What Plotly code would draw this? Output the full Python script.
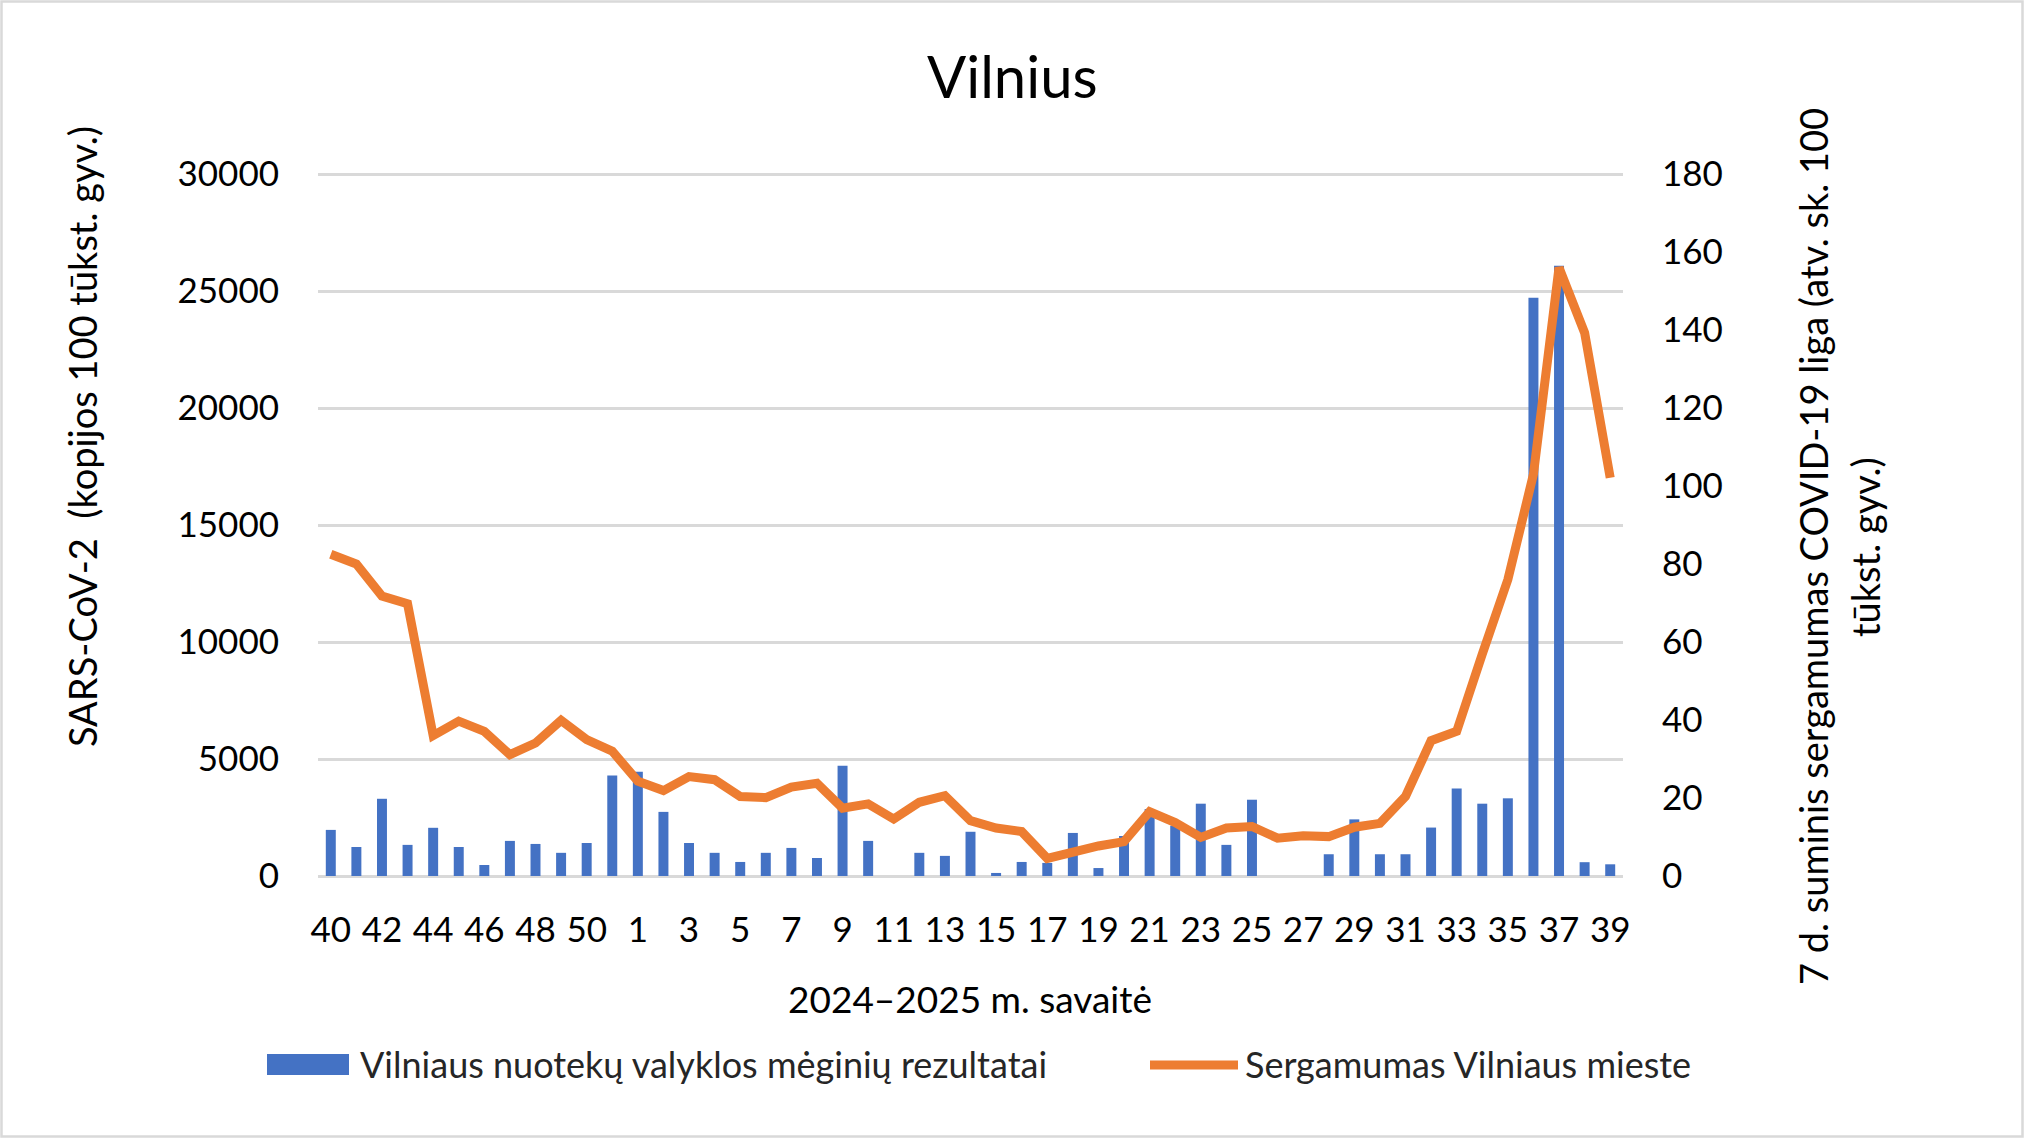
import plotly.graph_objects as go

# ---------------- data ----------------
weeks = [str(w) for w in range(40, 52)] + [str(w) for w in range(1, 40)]

wastewater = [1970, 1240, 3300, 1330, 2060, 1240, 470, 1500, 1370, 990, 1410, 4290,
              4460, 2740, 1410, 990, 600, 990, 1200, 770, 4710, 1500, None, 990,
              860, 1890, 130, 600, 560, 1840, 340, 1710, 2860, 2150, 3090, 1330,
              3260, None, None, 930, 2420, 930, 930, 2070, 3740, 3090, 3320, 24710,
              26080, 590, 500]

incidence = [82.5, 80.0, 71.8, 69.8, 36.0, 39.7, 37.1, 31.1, 34.1, 39.9, 35.0, 32.0,
             24.3, 21.9, 25.5, 24.7, 20.4, 20.1, 22.8, 23.8, 17.4, 18.5, 14.6, 18.9,
             20.6, 14.2, 12.3, 11.4, 4.5, 6.3, 7.7, 8.8, 16.5, 13.7, 9.9, 12.3,
             12.7, 9.7, 10.3, 10.1, 12.5, 13.5, 20.4, 34.7, 37.1, 56.9, 76.0, 103.0,
             156.0, 139.3, 102.1]

tick_weeks = weeks[::2]

title_text = "Vilnius"
x_title = "2024–2025 m. savaitė"
y_title = "SARS-CoV-2  (kopijos 100 tūkst. gyv.)"
y2_title_1 = "7 d. suminis sergamumas COVID-19 liga (atv. sk. 100"
y2_title_2 = "tūkst. gyv.)"
bar_name = "Vilniaus nuotekų valyklos mėginių rezultatai"
line_name = "Sergamumas Vilniaus mieste"

# ---------------- layout geometry ----------------
W, H = 2024, 1138
L, R, T, B = 318, 1623, 170, 876  # plot area in px (top padded by 4 px)
TOP_GRID = 174                    # pixel row of the 30000 / 180 gridline
SCALE = (B - T) / (B - TOP_GRID)  # range head-room so the top gridline is drawn


def fx(px):
    return (px - L) / (R - L)


def fy(py):
    return (B - py) / (B - T)


FONT = "Lato"
BLUE = "#4472C4"
ORANGE = "#ED7D31"
GRID = "#d9d9d9"

fig = go.Figure()
fig.add_trace(go.Bar(x=weeks, y=wastewater, name=bar_name,
                     marker=dict(color=BLUE, line=dict(width=0)), yaxis="y"))
fig.add_trace(go.Scatter(x=weeks, y=incidence, name=line_name, mode="lines",
                         line=dict(color=ORANGE, width=9), yaxis="y2"))

annotations = [
    dict(text=title_text, x=fx(1012), y=fy(76), font=dict(family=FONT, size=58, color="black")),
    dict(text=x_title, x=fx(970), y=fy(998), font=dict(family=FONT, size=37, color="black")),
    dict(text=y_title, x=fx(82), y=fy(437), textangle=-90, font=dict(family=FONT, size=38, color="black")),
    dict(text=y2_title_1, x=fx(1813), y=fy(546), textangle=-90, font=dict(family=FONT, size=38, color="black")),
    dict(text=y2_title_2, x=fx(1865), y=fy(547), textangle=-90, font=dict(family=FONT, size=38, color="black")),
    dict(text=bar_name, x=fx(358), y=fy(1064), xanchor="left", font=dict(family=FONT, size=36, color="#262626")),
    dict(text=line_name, x=fx(1243), y=fy(1064), xanchor="left", font=dict(family=FONT, size=36, color="#262626")),
]
for a in annotations:
    a.update(xref="paper", yref="paper", showarrow=False)
    a.setdefault("xanchor", "center")
    a.setdefault("yanchor", "middle")

shapes = [
    dict(type="rect", xref="paper", yref="paper", x0=fx(267), x1=fx(349), y0=fy(1075), y1=fy(1054),
         fillcolor=BLUE, line=dict(width=0)),
    dict(type="line", xref="paper", yref="paper", x0=fx(1150), x1=fx(1238), y0=fy(1065), y1=fy(1065),
         line=dict(color=ORANGE, width=9)),
    dict(type="rect", xref="paper", yref="paper", x0=fx(1.5), x1=fx(2022.5), y0=fy(1136.5), y1=fy(1.5),
         line=dict(color=GRID, width=2.5), fillcolor="rgba(0,0,0,0)"),
]

fig.update_layout(
    width=W, height=H, autosize=False,
    margin=dict(l=L, r=W - R, t=T, b=H - B, pad=0),
    paper_bgcolor="white", plot_bgcolor="white",
    showlegend=False,
    bargap=0.61,
    font=dict(family=FONT, color="black"),
    xaxis=dict(type="category", categoryorder="array", categoryarray=weeks,
               tickmode="array", tickvals=tick_weeks, ticktext=tick_weeks,
               tickfont=dict(family=FONT, size=35, color="black"),
               showgrid=False, showline=False, zeroline=False, ticks="",
               ticklabelstandoff=30),
    yaxis=dict(range=[0, 30000 * SCALE], tickmode="linear", tick0=0, dtick=5000,
               tickformat="d",
               tickfont=dict(family=FONT, size=35, color="black"),
               showgrid=True, gridcolor=GRID, gridwidth=2.5,
               zeroline=True, zerolinecolor=GRID, zerolinewidth=2.5,
               showline=False, ticks="", ticklabelstandoff=38, fixedrange=True),
    yaxis2=dict(range=[0, 180 * SCALE], tickmode="linear", tick0=0, dtick=20,
                overlaying="y", side="right",
                tickfont=dict(family=FONT, size=35, color="black"),
                showgrid=False, zeroline=False, showline=False, ticks="",
                ticklabelstandoff=38),
    annotations=annotations,
    shapes=shapes,
)

fig.write_html("out.html")
